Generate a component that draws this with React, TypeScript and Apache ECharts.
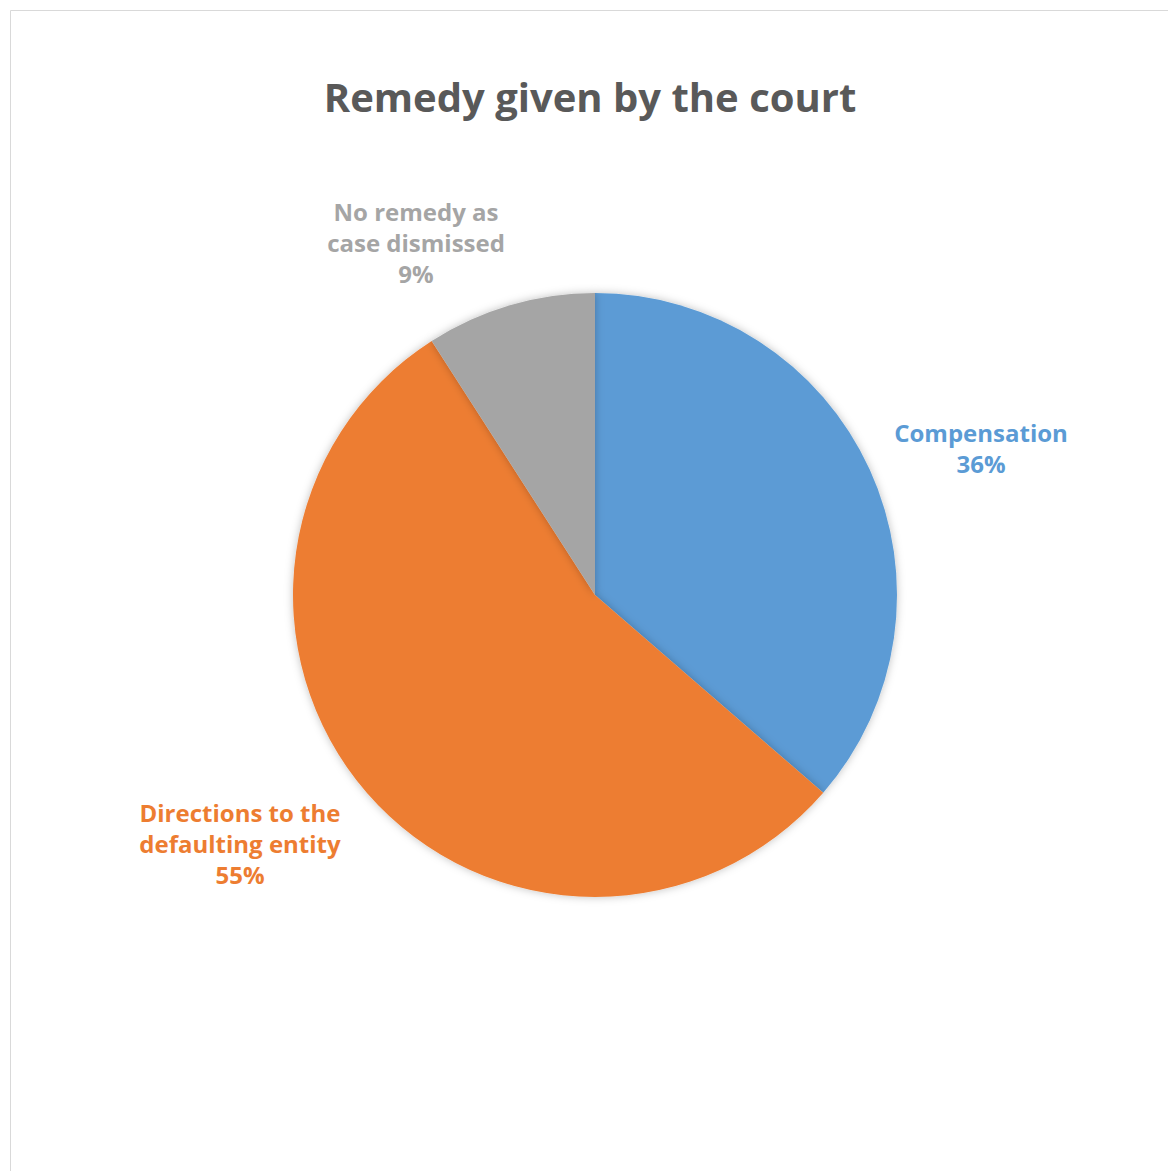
import React, { useEffect, useRef } from "react";
import * as echarts from "echarts";

const categories = ["Compensation", "Directions to the\ndefaulting entity", "No remedy as\ncase dismissed"];
const values = [4, 6, 1];
const colors = ["#5B9BD5", "#ED7D31", "#A5A5A5"];
const titleText = "Remedy given by the court";
const labelPositions = [
  [981, 448],
  [240, 843],
  [416, 242],
];

export default function App() {
  const ref = useRef<HTMLDivElement>(null);
  useEffect(() => {
    if (!ref.current) return;
    const chart = echarts.init(ref.current, null, { renderer: "svg" });
    const font = "'Open Sans', 'Noto Sans', sans-serif";
    chart.setOption({
      animation: false,
      backgroundColor: "#ffffff",
      graphic: [
        {
          type: "rect",
          shape: { x: 10.5, y: 10.5, width: 1300, height: 1300 },
          style: { fill: "none", stroke: "#d9d9d9", lineWidth: 1 },
          silent: true,
        },
        {
          type: "text",
          x: 590,
          y: 96,
          style: {
            text: titleText,
            fill: "#595959",
            font: `700 40px ${font}`,
            textAlign: "center",
            textVerticalAlign: "middle",
          },
        },
      ],
      series: [
        {
          type: "pie",
          center: [595, 595],
          radius: 302,
          startAngle: 90,
          clockwise: true,
          percentPrecision: 0,
          data: categories.map((name, i) => ({
            name,
            value: values[i],
            itemStyle: { color: colors[i] },
            label: { color: colors[i] },
          })),
          itemStyle: {
            shadowBlur: 8,
            shadowColor: "rgba(0,0,0,0.25)",
            borderWidth: 0,
          },
          label: {
            show: true,
            position: "outside",
            formatter: "{b}\n{d}%",
            fontFamily: font,
            fontWeight: 700,
            fontSize: 24,
            lineHeight: 31,
            align: "center",
          },
          labelLine: { show: false },
          labelLayout: (params: any) => {
            const p = labelPositions[params.dataIndex];
            return { x: p[0], y: p[1], align: "center", verticalAlign: "middle" };
          },
          emphasis: { disabled: true },
        },
      ],
    });
    return () => chart.dispose();
  }, []);
  return (
    <div
      ref={ref}
      style={{ position: "absolute", left: 0, top: 0, width: 1168, height: 1171 }}
    />
  );
}
